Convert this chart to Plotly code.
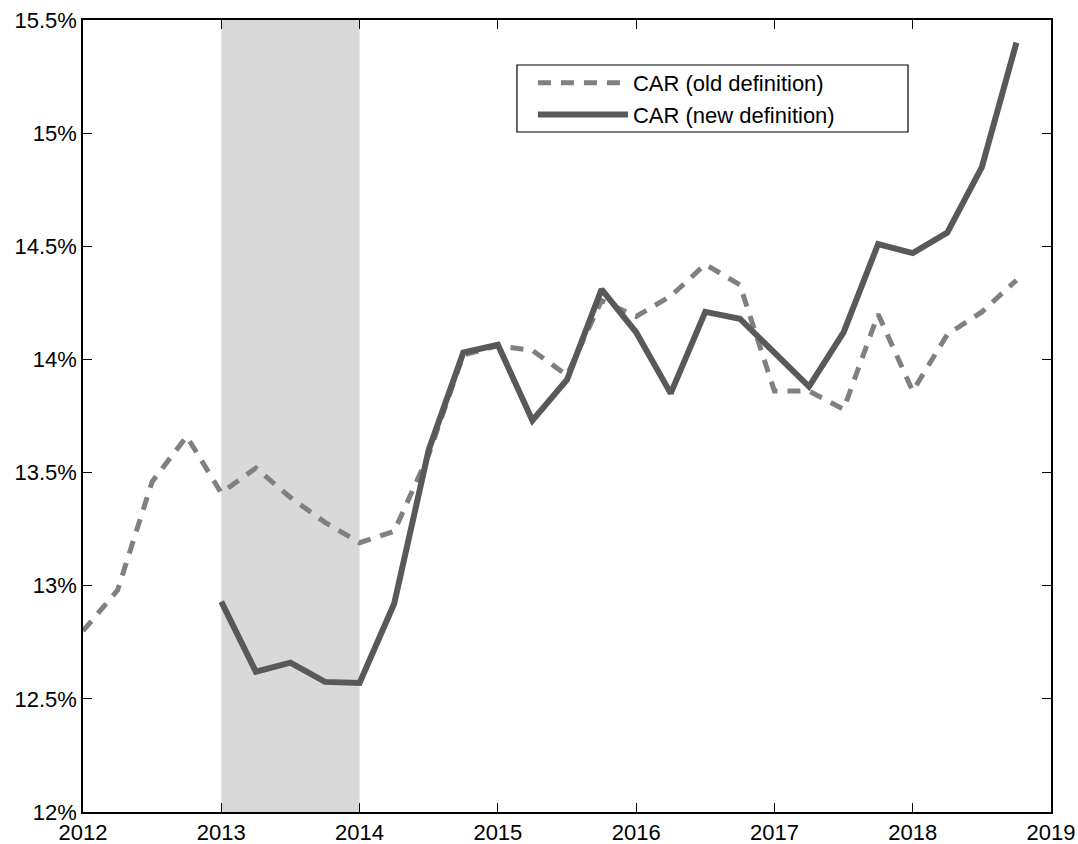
import plotly.graph_objects as go

# Quarterly observation dates (decimal years)
quarters = [
    2012.00, 2012.25, 2012.50, 2012.75,
    2013.00, 2013.25, 2013.50, 2013.75,
    2014.00, 2014.25, 2014.50, 2014.75,
    2015.00, 2015.25, 2015.50, 2015.75,
    2016.00, 2016.25, 2016.50, 2016.75,
    2017.00, 2017.25, 2017.50, 2017.75,
    2018.00, 2018.25, 2018.50, 2018.75,
]

# Capital adequacy ratio, percent
car_old = [
    12.80, 12.98, 13.46, 13.66,
    13.41, 13.52, 13.39, 13.28,
    13.19, 13.24, 13.58, 14.02,
    14.06, 14.04, 13.93, 14.26,
    14.19, 14.28, 14.42, 14.33,
    13.86, 13.86, 13.78, 14.20,
    13.86, 14.11, 14.21, 14.35,
]
car_new = [
    None, None, None, None,
    12.93, 12.62, 12.66, 12.575,
    12.57, 12.92, 13.60, 14.03,
    14.065, 13.73, 13.91, 14.31,
    14.12, 13.85, 14.21, 14.18,
    14.03, 13.88, 14.12, 14.51,
    14.47, 14.56, 14.85, 15.40,
]

# Shaded period
shade_start, shade_end = 2013, 2014

year_ticks = [2012, 2013, 2014, 2015, 2016, 2017, 2018, 2019]
pct_ticks = [12, 12.5, 13, 13.5, 14, 14.5, 15, 15.5]
pct_labels = ["12%", "12.5%", "13%", "13.5%", "14%", "14.5%", "15%", "15.5%"]

FONT = "Liberation Sans, Arial, sans-serif"

fig = go.Figure()

fig.add_trace(go.Scatter(
    x=quarters, y=car_old, mode="lines", name="CAR (old definition)",
    line=dict(color="#808080", width=5, dash="13px,10px"),
))
fig.add_trace(go.Scatter(
    x=quarters, y=car_new, mode="lines", name="CAR (new definition)",
    line=dict(color="#595959", width=6),
))

# Shaded band behind the data
fig.add_shape(
    type="rect", xref="x", yref="paper",
    x0=shade_start, x1=shade_end, y0=0, y1=1,
    fillcolor="#d9d9d9", line=dict(width=0), layer="below",
)
# Legend frame (white box over the lines, legend entries drawn on top)
fig.add_shape(
    type="rect", xref="paper", yref="paper",
    x0=0.4483, x1=0.8523, y0=0.8586, y1=0.9432,
    fillcolor="white", line=dict(color="black", width=1.2), layer="above",
)

axis_common = dict(
    showline=True, linecolor="black", linewidth=1.5,
    mirror="allticks", ticks="inside", ticklen=9, tickwidth=1,
    tickcolor="black", showgrid=False, zeroline=False, automargin=False,
    tickfont=dict(family=FONT, size=22, color="black"),
)

fig.update_xaxes(
    range=[2012, 2019], tickvals=year_ticks,
    ticktext=[str(y) for y in year_ticks], **axis_common,
)
fig.update_yaxes(
    range=[12, 15.5], tickvals=pct_ticks, ticktext=pct_labels,
    **axis_common,
)

fig.update_layout(
    width=1078, height=844,
    margin=dict(l=83, r=27, t=20, b=32),
    plot_bgcolor="white", paper_bgcolor="white",
    font=dict(family=FONT, size=22, color="black"),
    showlegend=True,
    legend=dict(
        x=0.4648, y=0.9470, xanchor="left", yanchor="top",
        bgcolor="rgba(0,0,0,0)", borderwidth=0,
        font=dict(family=FONT, size=22, color="black"),
        itemwidth=90, tracegroupgap=0,
    ),
)

fig.write_html("out.html")
